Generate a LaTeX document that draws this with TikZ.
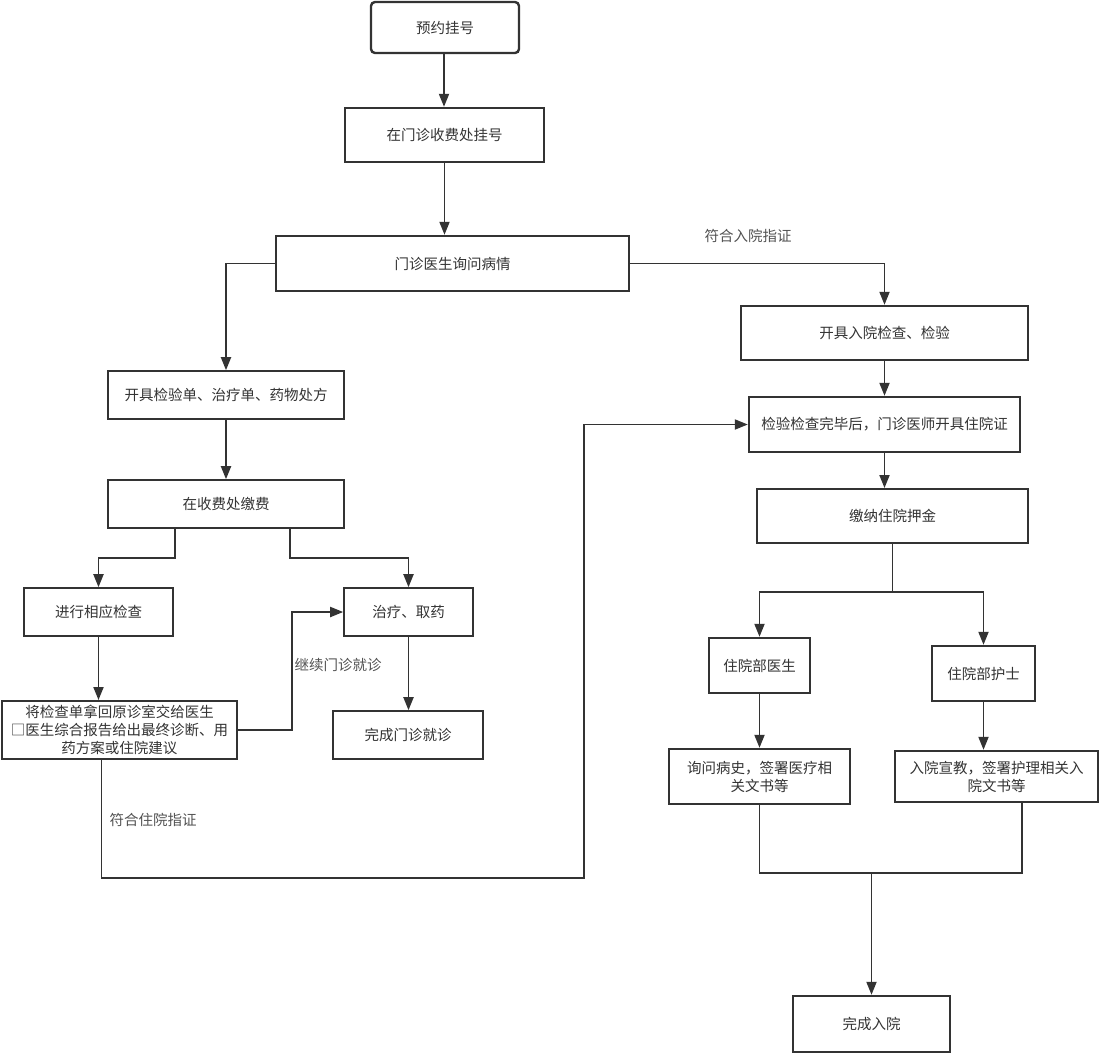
\documentclass[tikz,border=0pt]{standalone}
\usepackage{fontspec}
\setmainfont{Noto Sans CJK SC}
\usetikzlibrary{arrows.meta,calc}
\definecolor{ln}{HTML}{333333}
\definecolor{tx}{HTML}{333333}
\tikzset{
  box/.style={draw=ln, line width=1.6pt, fill=white, inner sep=0pt, align=center, font=\fontsize{14.5}{18}\selectfont, text=tx},
  tbox/.style={box, line width=2.4pt},
  arr/.style={draw=ln, line width=1.9pt, -{Triangle[length=13pt,width=10pt]}},
  ln/.style={draw=ln, line width=1.9pt},
  lbl/.style={font=\fontsize{14.5}{18}\selectfont, text=tx!85, inner sep=0pt}
}
\begin{document}
\begin{tikzpicture}[x=1pt,y=-1pt]
\useasboundingbox (0,0) rectangle (1100,1053);
\node[tbox, rounded corners=4pt, minimum width=148pt, minimum height=51pt] (n1) at (445,27.5) {预约挂号};
\node[tbox, minimum width=199pt, minimum height=54pt] (n2) at (444.5,135) {在门诊收费处挂号};
\node[tbox, minimum width=353pt, minimum height=55pt] (n3) at (452.5,263.5) {门诊医生询问病情};
\node[box, minimum width=236pt, minimum height=48pt] (n4) at (226,395) {开具检验单、治疗单、药物处方};
\node[box, minimum width=236pt, minimum height=48pt] (n5) at (226,504) {在收费处缴费};
\node[box, minimum width=149pt, minimum height=48pt] (n6) at (98.5,612) {进行相应检查};
\node[box, minimum width=129pt, minimum height=48pt] (n7) at (408.5,612) {治疗、取药};
\node[box, line width=2pt, minimum width=235pt, minimum height=58pt] (n8) at (119.5,730) {将检查单拿回原诊室交给医生\\□医生综合报告给出最终诊断、用\\药方案或住院建议};
\node[box, minimum width=150pt, minimum height=48pt] (n9) at (408,735) {完成门诊就诊};
\node[tbox, minimum width=287pt, minimum height=54pt] (n10) at (884.5,333) {开具入院检查、检验};
\node[tbox, minimum width=271pt, minimum height=55pt] (n11) at (884.5,424.5) {检验检查完毕后，门诊医师开具住院证};
\node[box, line width=2pt, minimum width=271pt, minimum height=54pt] (n12) at (892.5,516) {缴纳住院押金};
\node[tbox, minimum width=101pt, minimum height=55pt] (n13) at (759.5,665.5) {住院部医生};
\node[tbox, minimum width=103pt, minimum height=55pt] (n14) at (983.5,673.5) {住院部护士};
\node[tbox, minimum width=181pt, minimum height=55pt] (n15) at (759.5,776.5) {询问病史，签署医疗相\\关文书等};
\node[tbox, minimum width=203pt, minimum height=51pt] (n16) at (996.5,776.5) {入院宣教，签署护理相关入\\院文书等};
\node[tbox, minimum width=157pt, minimum height=56pt] (n17) at (871.5,1024) {完成入院};

\node[lbl] (l1) at (748,236) {符合入院指证};
\node[lbl] (l2) at (338,665) {继续门诊就诊};
\node[lbl] (l3) at (153,820) {符合住院指证};

\draw[arr] ($(n1.south)+(-1,0)$) -- ($(n1.south |- n2.north)+(-1,0)$);
\draw[arr] (n2.south) -- (n2.south |- n3.north);
\draw[arr] (n3.west) -| (n4.north);
\draw[arr] (n3.east) -| (n10.north);
\draw[arr] (n4) -- (n5);
\draw[arr] ($(n5.south)+(-51,0)$) -- ++(0,29) -| (n6.north);
\draw[arr] ($(n5.south)+(64,0)$) -- ++(0,29) -| (n7.north);
\draw[arr] (n6.south) -- (n6.south |- n8.north);
\draw[arr] (n8.east) -- ++(54,0) |- (n7.west);
\draw[arr] (n7.south) -- (n7.south |- n9.north);
\coordinate (j1) at (584,878);
\draw[arr] ($(n8.south)+(-18,0)$) |- (j1) |- (n11.west);
\draw[arr] (n10) -- (n11);
\draw[arr] (n11.south) -- (n11.south |- n12.north);
\draw[ln] (n12.south) -- ++(0,48) coordinate (s1);
\draw[arr] (s1) -| (n13.north);
\draw[arr] (s1) -| (n14.north);
\draw[arr] (n13) -- (n15);
\draw[arr] (n14.south) -- (n16.north -| n14.south);
\coordinate (m1) at (871.5,873);
\draw[ln] (n15.south) |- (m1) -| ($(n16.south)+(25.5,0)$);
\draw[arr] (m1) -- (n17.north);
\end{tikzpicture}
\end{document}
